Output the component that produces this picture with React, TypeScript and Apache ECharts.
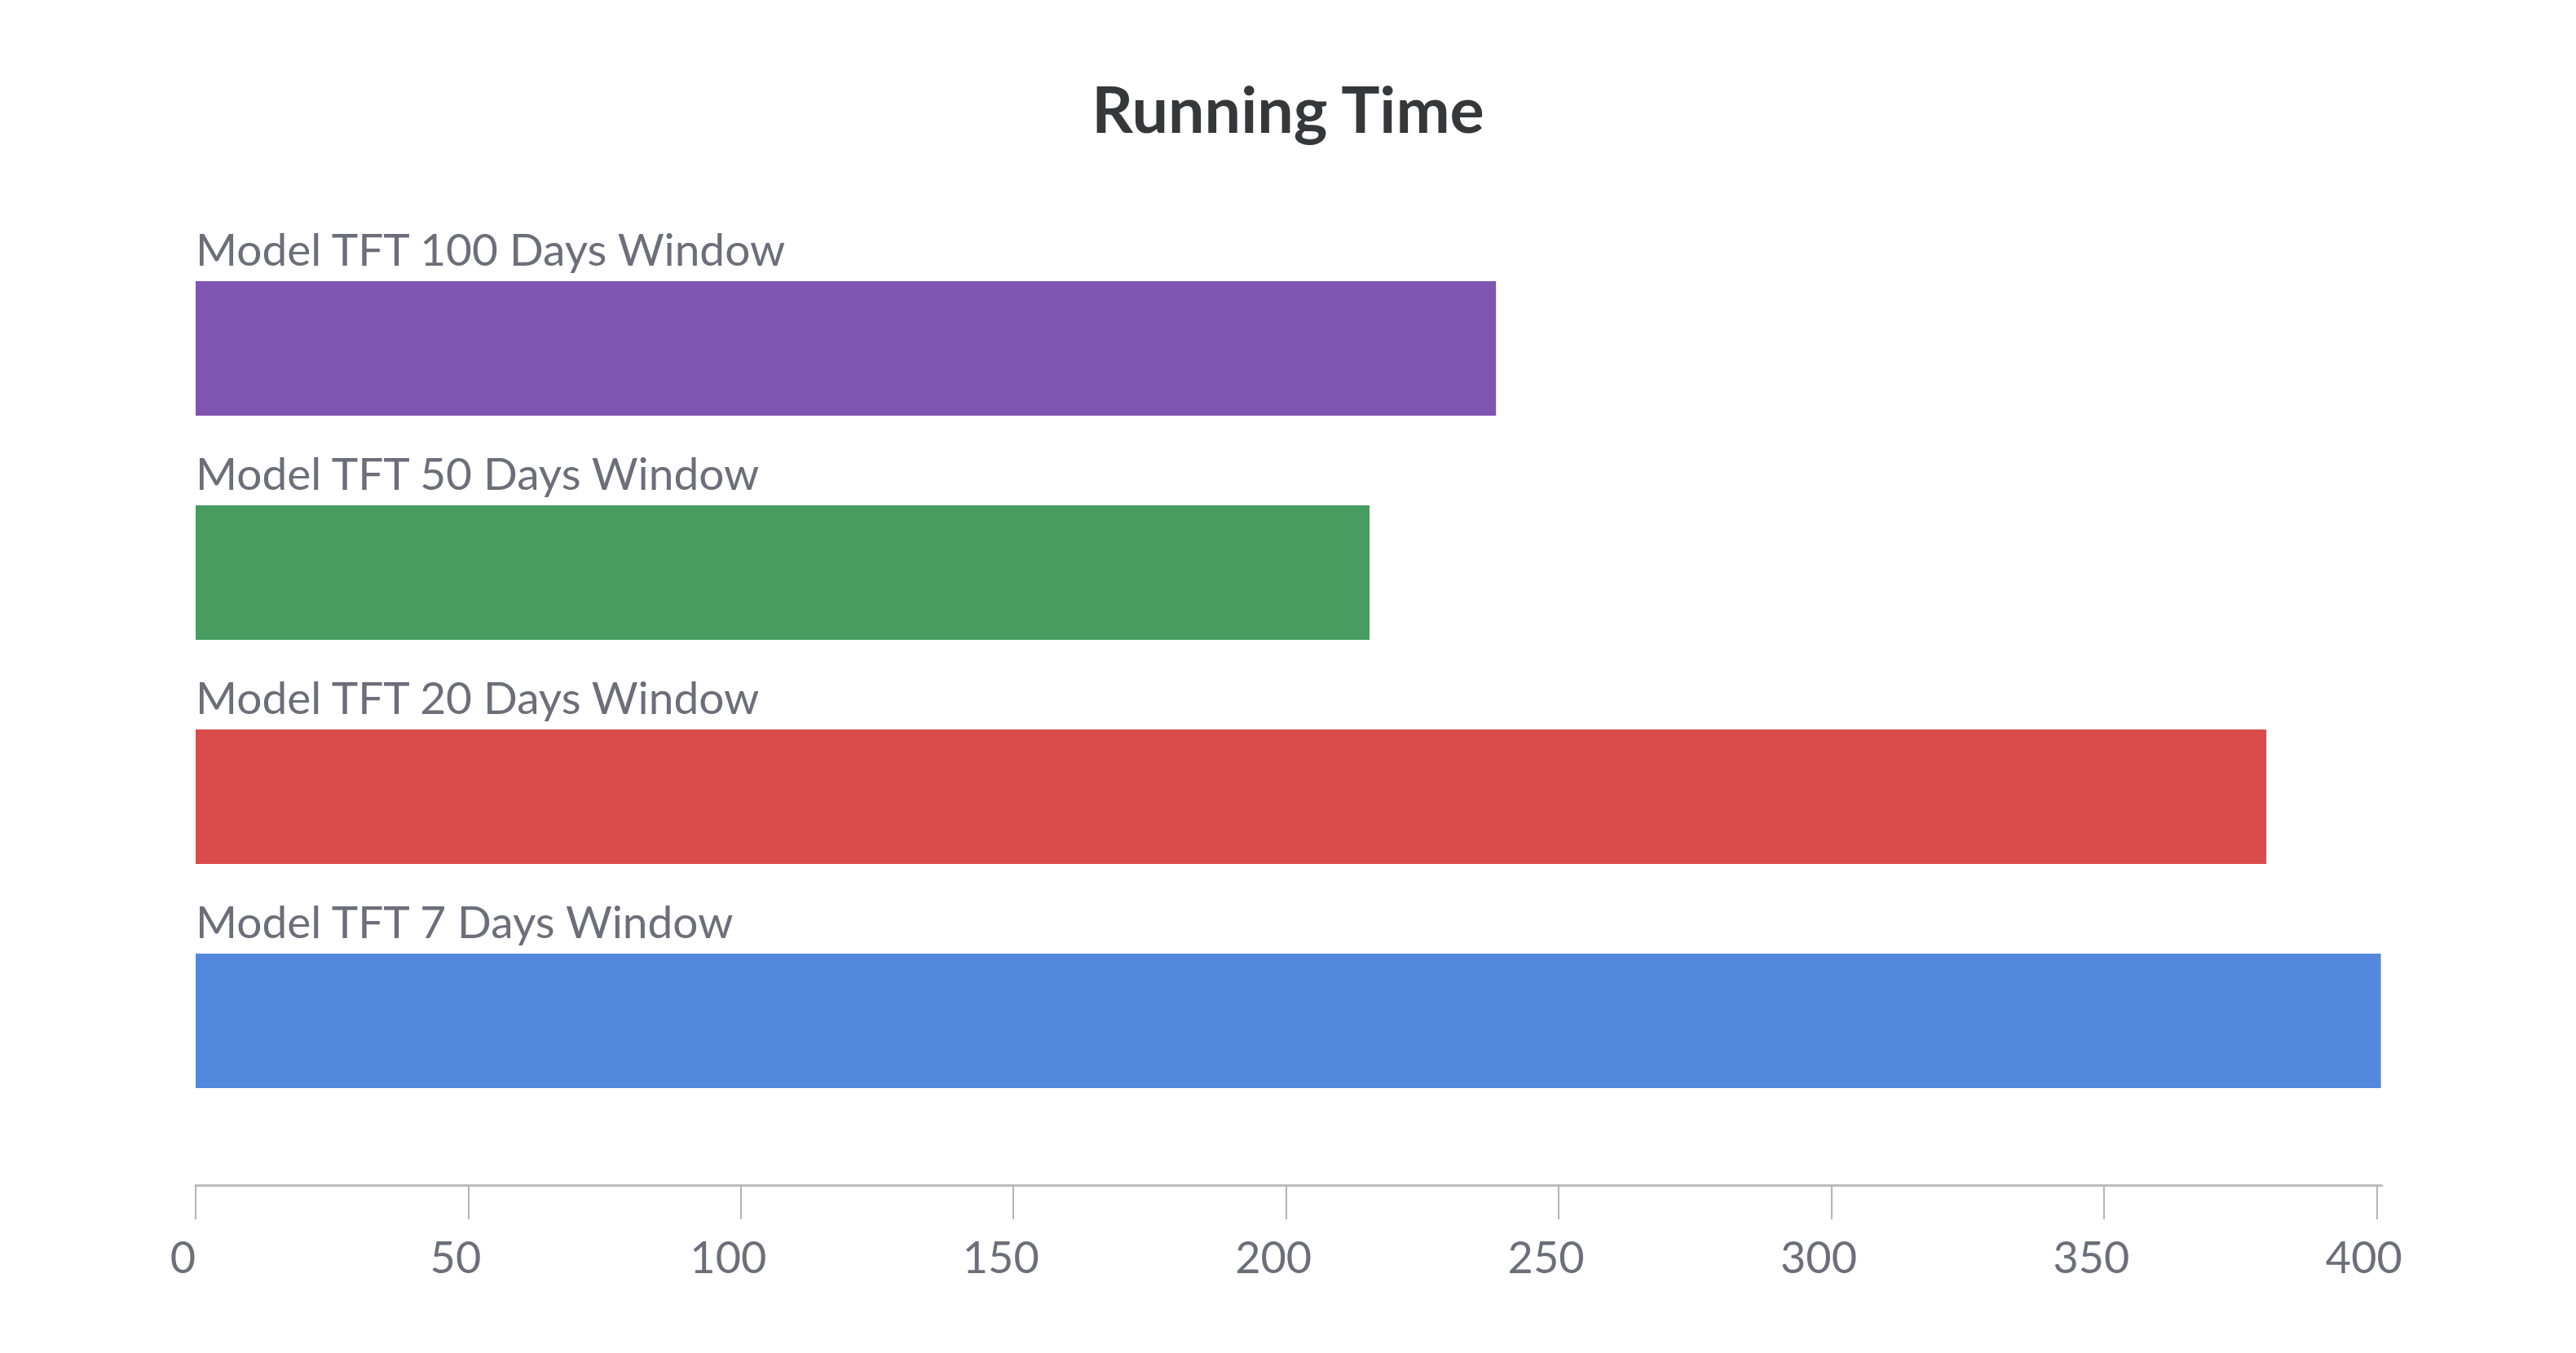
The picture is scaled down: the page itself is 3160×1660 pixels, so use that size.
import React, { useEffect, useRef } from "react";
import * as echarts from "echarts";

const titleText = "Running Time";
const categories = [
  "Model TFT 100 Days Window",
  "Model TFT 50 Days Window",
  "Model TFT 20 Days Window",
  "Model TFT 7 Days Window",
];
const runningTime = [238.5, 215.3, 379.8, 400.8];
const barColors = ["#7f55b1", "#479c5f", "#da4c4b", "#5388dd"];
const tickValues = [0, 50, 100, 150, 200, 250, 300, 350, 400];
const axisMax = 401;

const FONT = "Lato, 'Noto Sans', sans-serif";

export default function App() {
  const ref = useRef<HTMLDivElement>(null);
  useEffect(() => {
    document.body.style.margin = "0";
    document.body.style.overflow = "hidden";
    const chart = echarts.init(ref.current!, null, { renderer: "svg" });
    chart.setOption({
      animation: false,
      backgroundColor: "#ffffff",
      title: {
        text: titleText,
        left: "center",
        top: 88,
        textStyle: {
          fontFamily: FONT,
          fontWeight: "bold",
          fontSize: 79,
          color: "#35383b",
        },
      },
      grid: { left: 240, right: 238, top: 290, height: 1100, containLabel: false },
      xAxis: {
        type: "value",
        min: 0,
        max: axisMax,
        offset: 64,
        splitLine: { show: false },
        axisLine: { show: true, lineStyle: { color: "#bdbdbd", width: 3 } },
        axisTick: {
          show: true,
          length: 42,
          customValues: tickValues,
          lineStyle: { color: "#b5b5b5", width: 2 },
        },
        axisLabel: {
          customValues: tickValues,
          margin: 60,
          padding: [0, 31, 0, 0],
          fontFamily: FONT,
          fontSize: 54,
          color: "#6d6e7a",
        },
      },
      yAxis: {
        type: "category",
        inverse: true,
        data: categories,
        axisLine: { show: false },
        axisTick: { show: false },
        axisLabel: { show: false },
        splitLine: { show: false },
      },
      series: [
        {
          type: "bar",
          barWidth: 165,
          data: runningTime.map((v, i) => ({ value: v, itemStyle: { color: barColors[i] } })),
          label: {
            show: true,
            position: [0, -13],
            align: "left",
            verticalAlign: "bottom",
            formatter: "{b}",
            fontFamily: FONT,
            fontSize: 55,
            color: "#6d6e7a",
          },
        },
      ],
    });
    return () => chart.dispose();
  }, []);
  return (
    <div
      ref={ref}
      style={{ position: "absolute", left: 0, top: 0, width: 3160, height: 1660 }}
    />
  );
}
